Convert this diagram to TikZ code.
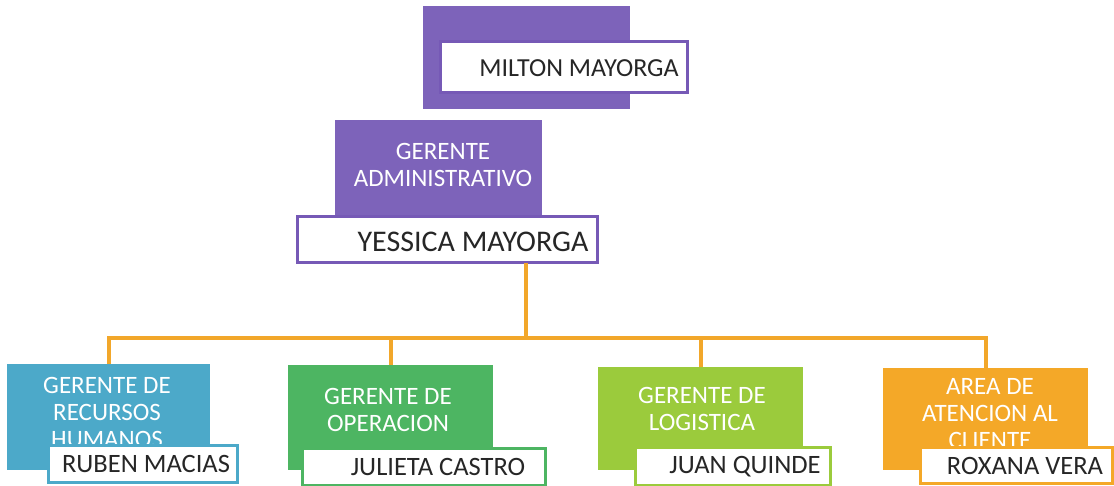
\documentclass[tikz,border=0pt]{standalone}
\usepackage{fontspec}
\setmainfont{Carlito}
\begin{document}
\begin{tikzpicture}[x=1pt,y=-1pt,
  cbox/.style={rectangle,inner sep=0pt,outer sep=0pt,draw=none},
  pbox/.style={rectangle,inner sep=0pt,outer sep=0pt,fill=white,line width=3pt},
  ttext/.style={inner sep=0pt,text=white,align=center,font=\fontsize{25}{27}\selectfont},
  ptext/.style={inner sep=0pt,text=black!85,font=\fontsize{26.5}{28}\selectfont},
  conn/.style={draw=corange,line width=4pt}]
\definecolor{cpurple}{HTML}{7D63BA}
\definecolor{cpurpleb}{HTML}{7659B6}
\definecolor{cblue}{HTML}{4CA9C9}
\definecolor{cgreen}{HTML}{4DB562}
\definecolor{clime}{HTML}{9BCB3C}
\definecolor{corangebox}{HTML}{F4A828}
\definecolor{corange}{HTML}{F2A72A}
\useasboundingbox (0,0) rectangle (1114,486);
% top
\node[cbox,fill=cpurple,minimum width=207pt,minimum height=103pt] (topb) at (526.5,57.5) {};
\node[pbox,draw=cpurpleb,minimum width=247pt,minimum height=51pt] (topn) at (563.5,67.5) {};
\node[ptext,font=\fontsize{26}{28}\selectfont] (topt) at (579,68) {MILTON MAYORGA};
% admin
\node[cbox,fill=cpurple,minimum width=207pt,minimum height=115pt] (admb) at (438.5,177.5) {};
\node[ttext] (admt) at (443,165) {GERENTE\\ADMINISTRATIVO};
\node[pbox,draw=cpurpleb,minimum width=300pt,minimum height=46pt] (yes) at (447,240) {};
\node[ptext,font=\fontsize{30}{32}\selectfont] (yest) at (473,242) {YESSICA MAYORGA};
% bottom boxes
\node[cbox,fill=cblue,minimum width=203pt,minimum height=106pt] (hr) at (108.5,417) {};
\node[ttext] (hrt) at (107,412) {GERENTE DE\\RECURSOS\\HUMANOS};
\node[pbox,draw=cblue,minimum width=189pt,minimum height=37pt] (hrn) at (142.5,463.5) {};
\node[ptext] (hrnt) at (146,464) {RUBEN MACIAS};

\node[cbox,fill=cgreen,minimum width=205pt,minimum height=105pt] (op) at (390.5,417.5) {};
\node[ttext] (opt) at (388,410) {GERENTE DE\\OPERACION};
\node[pbox,draw=cgreen,minimum width=243pt,minimum height=37pt] (opn) at (423.5,466.5) {};
\node[ptext] (opnt) at (438,467) {JULIETA CASTRO};

\node[cbox,fill=clime,minimum width=205pt,minimum height=103pt] (lg) at (700.5,418.5) {};
\node[ttext] (lgt) at (702,409) {GERENTE DE\\LOGISTICA};
\node[pbox,draw=clime,minimum width=195pt,minimum height=38pt] (lgn) at (732.5,466) {};
\node[ptext] (lgnt) at (745,467) {JUAN QUINDE};

\node[cbox,fill=corangebox,minimum width=205pt,minimum height=102pt] (cl) at (985.5,419) {};
\node[ttext] (clt) at (990,414) {AREA DE\\ATENCION AL\\CLIENTE};
\node[pbox,draw=corangebox,minimum width=192pt,minimum height=36pt] (cln) at (1016,465) {};
\node[ptext] (clnt) at (1025,466) {ROXANA VERA};

% connectors
\coordinate (j) at (526,338);
\draw[conn] (j |- yes.south) -- (j);
\draw[conn] (hr.north) |- (j) -| (cl.north);
\draw[conn] (op.north) -- (op.north |- j);
\draw[conn] (lg.north) -- (lg.north |- j);
\end{tikzpicture}
\end{document}
